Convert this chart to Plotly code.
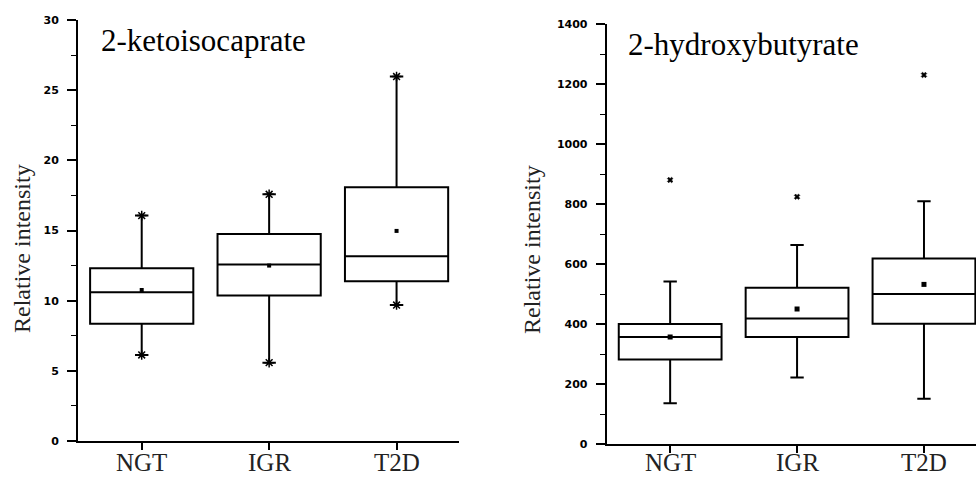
import plotly.graph_objects as go

W, H = 976, 477

groups = ["NGT", "IGR", "T2D"]

# 2-ketoisocaprate
keto_low = [6.13, 5.58, 9.69]
keto_q1 = [8.36, 10.36, 11.38]
keto_median = [10.6, 12.57, 13.16]
keto_q3 = [12.31, 14.75, 18.08]
keto_high = [16.06, 17.58, 25.97]
keto_mean = [10.76, 12.5, 14.97]

# 2-hydroxybutyrate
hb_low = [136, 222, 151]
hb_q1 = [282, 357, 401]
hb_median = [357, 418, 500]
hb_q3 = [400, 521, 618]
hb_high = [542, 663, 809]
hb_mean = [357, 450, 532]
hb_outlier = [880, 824, 1230]

titles = ["2-ketoisocaprate", "2-hydroxybutyrate"]
ytitle = "Relative intensity"

def px_x(p):
    return p / W

def px_y(p):
    return 1 - p / H

fig = go.Figure()

box_style = dict(
    fillcolor="white",
    line=dict(color="black", width=2),
    whiskerwidth=0.13,
    boxpoints=False,
    width=0.81,
    showlegend=False,
    hoverinfo="skip",
)

fig.add_trace(go.Box(x=groups, q1=keto_q1, median=keto_median, q3=keto_q3,
                     lowerfence=keto_low, upperfence=keto_high,
                     xaxis="x", yaxis="y", **box_style))
fig.add_trace(go.Scatter(x=groups, y=keto_mean, mode="markers", xaxis="x", yaxis="y",
                         marker=dict(symbol="square", size=4, color="black"),
                         showlegend=False, hoverinfo="skip"))
fig.add_trace(go.Scatter(x=groups + groups, y=keto_low + keto_high, mode="markers",
                         xaxis="x", yaxis="y",
                         marker=dict(symbol="asterisk-open", size=8, color="black",
                                     line=dict(color="black", width=1.5)),
                         showlegend=False, hoverinfo="skip"))

fig.add_trace(go.Box(x=groups, q1=hb_q1, median=hb_median, q3=hb_q3,
                     lowerfence=hb_low, upperfence=hb_high,
                     xaxis="x2", yaxis="y2", **box_style))
fig.add_trace(go.Scatter(x=groups, y=hb_mean, mode="markers", xaxis="x2", yaxis="y2",
                         marker=dict(symbol="square", size=5, color="black"),
                         showlegend=False, hoverinfo="skip"))
fig.add_trace(go.Scatter(x=groups, y=hb_outlier, mode="markers", xaxis="x2", yaxis="y2",
                         marker=dict(symbol="x", size=5, color="black",
                                     line=dict(color="black", width=0.5)),
                         showlegend=False, hoverinfo="skip"))

tickfont = dict(family="DejaVu Sans", size=11, color="black", weight="bold")
xlabfont = dict(family="Liberation Serif", size=25, color="#222")

def xax(domain, rng, anchor):
    return dict(domain=domain, range=rng, anchor=anchor, type="category",
                categoryorder="array", categoryarray=groups,
                showline=True, linecolor="black", linewidth=2,
                ticks="outside", ticklen=7, tickwidth=2, tickcolor="black",
                showticklabels=False, showgrid=False, zeroline=False,
                automargin=False, fixedrange=True)

def yax(domain, rng, dtick, mdtick, anchor):
    return dict(domain=domain, range=rng, anchor=anchor,
                showline=True, linecolor="black", linewidth=2,
                ticks="outside", ticklen=9, tickwidth=1.5, tickcolor="black",
                dtick=dtick, tick0=0, tickfont=tickfont, ticklabelstandoff=6,
                minor=dict(ticks="outside", ticklen=5, tickwidth=1.2,
                           tickcolor="black", dtick=mdtick, tick0=0),
                showgrid=False, zeroline=False, automargin=False, fixedrange=True)

annotations = [
    dict(text=titles[0], x=px_x(99), y=px_y(40), xref="paper", yref="paper",
         xanchor="left", yanchor="middle", showarrow=False,
         font=dict(family="Liberation Serif", size=31, color="black")),
    dict(text=titles[1], x=px_x(626), y=px_y(45), xref="paper", yref="paper",
         xanchor="left", yanchor="middle", showarrow=False,
         font=dict(family="Liberation Serif", size=31, color="black")),
    dict(text=ytitle, x=px_x(22), y=px_y(249), xref="paper", yref="paper",
         xanchor="center", yanchor="middle", showarrow=False, textangle=-90,
         font=dict(family="Liberation Serif", size=24, color="#222")),
    dict(text=ytitle, x=px_x(532), y=px_y(250), xref="paper", yref="paper",
         xanchor="center", yanchor="middle", showarrow=False, textangle=-90,
         font=dict(family="Liberation Serif", size=24, color="#222")),
]
for xr in ("x", "x2"):
    for g in groups:
        annotations.append(dict(text=g, x=g, y=0, xref=xr, yref="paper",
                                xanchor="center", yanchor="bottom", showarrow=False,
                                borderpad=0, font=xlabfont))

fig.update_layout(
    width=W, height=H,
    margin=dict(l=0, r=0, t=0, b=0),
    paper_bgcolor="white", plot_bgcolor="white",
    xaxis=xax([px_x(78), px_x(459)], [-0.5, 2.49], "y"),
    yaxis=yax([px_y(441), px_y(20)], [0, 30], 5, 2.5, "x"),
    xaxis2=xax([px_x(606.7), 1.0], [-0.5, 2.41], "y2"),
    yaxis2=yax([px_y(444), px_y(24)], [0, 1400], 200, 100, "x2"),
    annotations=annotations,
)

fig.write_html("out.html",
               config={"displayModeBar": False},
               post_script="document.body.style.margin='0';document.body.style.overflow='hidden';")
